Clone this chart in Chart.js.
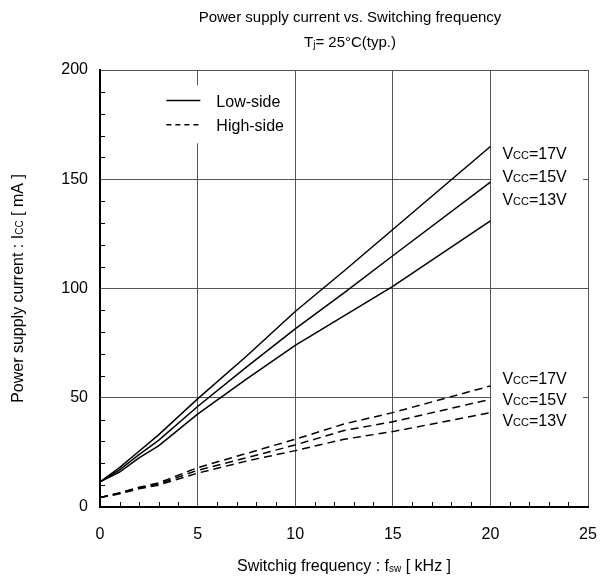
<!DOCTYPE html>
<html>
<head>
    <script src="https://cdn.jsdelivr.net/npm/chart.js@4/dist/chart.umd.min.js"></script>
    <style>
        body { margin: 0; background: #fff; }
        #wrap { width: 600px; height: 581px; }
    </style>
</head>
<body>
    <div id="wrap"><canvas id="chart" width="600" height="581"></canvas></div>
<script>
    // switching frequency [kHz]
    var freq = [0, 1, 2, 3, 5, 7.5, 10, 12.5, 15, 20];
    // low-side supply current [mA]
    var low17 = [11.5, 18, 25.5, 33, 49.5, 69, 89.5, 108, 127, 165];
    var low15 = [11.5, 17, 24, 30.5, 46, 64, 81.5, 98, 115, 148.7];
    var low13 = [11.5, 16, 22.5, 28, 42.5, 58.5, 74, 87.5, 101, 131];
    // high-side supply current [mA]
    var high17 = [4.3, 6.5, 9, 11, 18, 24.5, 31, 38, 43.2, 55.4];
    var high15 = [4.3, 6.3, 8.7, 10.5, 16.8, 22.5, 28.4, 35, 39, 49.3];
    var high13 = [4.3, 6, 8.3, 10, 15.5, 21, 25.8, 31, 34.5, 43.2];

    var xTicks = [0, 5, 10, 15, 20, 25];
    var yTicks = [0, 50, 100, 150, 200];
    var vccLabels = ['=17V', '=15V', '=13V'];

    var FONT = 'Arial, "Liberation Sans", sans-serif';

    function pts(ys) {
        return freq.map(function (f, i) { return { x: f, y: ys[i] }; });
    }

    function lineSet(label, ys, dashed) {
        return {
            label: label,
            data: pts(ys),
            borderColor: '#000',
            borderWidth: 1.5,
            borderDash: dashed ? [8, 5] : [],
            pointRadius: 0,
            fill: false,
            tension: 0
        };
    }

    // text with mixed sizes, parts = [[text, size, dy], ...]
    function richText(ctx, parts, x, y, align) {
        var w = 0;
        parts.forEach(function (p) {
            ctx.font = p[1] + 'px ' + FONT;
            w += ctx.measureText(p[0]).width;
        });
        var cx = align === 'center' ? x - w / 2 : x;
        ctx.textAlign = 'left';
        ctx.textBaseline = 'alphabetic';
        parts.forEach(function (p) {
            ctx.font = p[1] + 'px ' + FONT;
            ctx.fillText(p[0], cx, y + (p[2] || 0));
            cx += ctx.measureText(p[0]).width;
        });
    }

    var decorations = {
        id: 'decorations',
        beforeDatasetsDraw: function (chart) {
            var ctx = chart.ctx, a = chart.chartArea;
            var xs = chart.scales.x, ys = chart.scales.y;
            ctx.save();
            ctx.fillStyle = '#fff';
            // legend box
            ctx.fillRect(xs.getPixelForValue(2.6), ys.getPixelForValue(193), 118, 58);
            // label boxes on the right
            var l = xs.getPixelForValue(20) + 1;
            ctx.fillRect(l, ys.getPixelForValue(168), a.right - 5 - l, 76);
            ctx.fillRect(l, ys.getPixelForValue(63), a.right - 5 - l, 66);
            ctx.restore();
        },
        afterDraw: function (chart) {
            var ctx = chart.ctx, a = chart.chartArea;
            var xs = chart.scales.x, ys = chart.scales.y;
            ctx.save();
            ctx.fillStyle = '#000';
            ctx.strokeStyle = '#000';

            // minor ticks
            ctx.lineWidth = 1;
            ctx.beginPath();
            for (var i = 1; i < 25; i++) {
                if (i % 5 === 0) continue;
                var px = Math.round(xs.getPixelForValue(i)) + 0.5;
                ctx.moveTo(px, a.bottom);
                ctx.lineTo(px, a.bottom - 5);
            }
            for (var j = 10; j < 200; j += 10) {
                if (j % 50 === 0) continue;
                var py = Math.round(ys.getPixelForValue(j)) + 0.5;
                ctx.moveTo(a.left, py);
                ctx.lineTo(a.left + 5, py);
            }
            ctx.stroke();

            // title
            var mid = chart.width / 2 + 50;
            richText(ctx, [['Power supply current vs. Switching frequency', 15]], mid, 22, 'center');
            richText(ctx, [['T', 15], ['j', 10, 1], ['= 25°C(typ.)', 15]], mid, 47, 'center');

            // axis titles
            richText(ctx, [['Switchig frequency : f', 16], ['sw', 10, 1], [' [ kHz ]', 16]],
                (a.left + a.right) / 2, 571, 'center');
            ctx.save();
            ctx.translate(23, (a.top + a.bottom) / 2);
            ctx.rotate(-Math.PI / 2);
            richText(ctx, [['Power supply current : I', 16], ['CC', 10], [' [ mA ]', 16]], 0, 0, 'center');
            ctx.restore();

            // legend
            var lx = xs.getPixelForValue(3.4), lw = 34;
            var y1 = ys.getPixelForValue(186), y2 = ys.getPixelForValue(175);
            ctx.lineWidth = 1.5;
            ctx.beginPath();
            ctx.moveTo(lx, y1); ctx.lineTo(lx + lw, y1);
            ctx.stroke();
            ctx.setLineDash([5, 4]);
            ctx.beginPath();
            ctx.moveTo(lx, y2); ctx.lineTo(lx + lw, y2);
            ctx.stroke();
            ctx.setLineDash([]);
            richText(ctx, [['Low-side', 16]], lx + 50, y1 + 6, 'left');
            richText(ctx, [['High-side', 16]], lx + 50, y2 + 6, 'left');

            // Vcc labels
            var tx = xs.getPixelForValue(20) + 12;
            var upper = [162, 151.5, 141];
            var lower = [59, 49.4, 39.8];
            vccLabels.forEach(function (t, k) {
                richText(ctx, [['V', 16], ['CC', 11], [t, 16]], tx, ys.getPixelForValue(upper[k]) + 6, 'left');
                richText(ctx, [['V', 16], ['CC', 11], [t, 16]], tx, ys.getPixelForValue(lower[k]) + 6, 'left');
            });
            ctx.restore();
        }
    };

    new Chart('chart', {
        type: 'line',
        data: {
            datasets: [
                lineSet('Low-side Vcc=17V', low17, false),
                lineSet('Low-side Vcc=15V', low15, false),
                lineSet('Low-side Vcc=13V', low13, false),
                lineSet('High-side Vcc=17V', high17, true),
                lineSet('High-side Vcc=15V', high15, true),
                lineSet('High-side Vcc=13V', high13, true)
            ]
        },
        plugins: [decorations],
        options: {
            responsive: false,
            animation: false,
            layout: { padding: { top: 70, right: 12, left: 0, bottom: 0 } },
            plugins: {
                legend: { display: false },
                tooltip: { enabled: false }
            },
            scales: {
                x: {
                    type: 'linear',
                    min: 0,
                    max: 25,
                    afterBuildTicks: function (s) { s.ticks = xTicks.map(function (v) { return { value: v }; }); },
                    afterFit: function (s) { s.height = 74; s.paddingLeft = 0; s.paddingRight = 0; },
                    grid: { color: '#555', lineWidth: 1, drawTicks: false },
                    border: { color: '#000', width: 2 },
                    ticks: { color: '#000', padding: 18, font: { size: 16, family: FONT } }
                },
                y: {
                    min: 0,
                    max: 200,
                    afterBuildTicks: function (s) { s.ticks = yTicks.map(function (v) { return { value: v }; }); },
                    afterFit: function (s) { s.width = 100; s.paddingTop = 0; s.paddingBottom = 0; },
                    grid: { color: '#555', lineWidth: 1, drawTicks: false },
                    border: { color: '#000', width: 2 },
                    ticks: { color: '#000', padding: 12, font: { size: 16, family: FONT } }
                }
            }
        }
    });
</script>
</body>
</html>
